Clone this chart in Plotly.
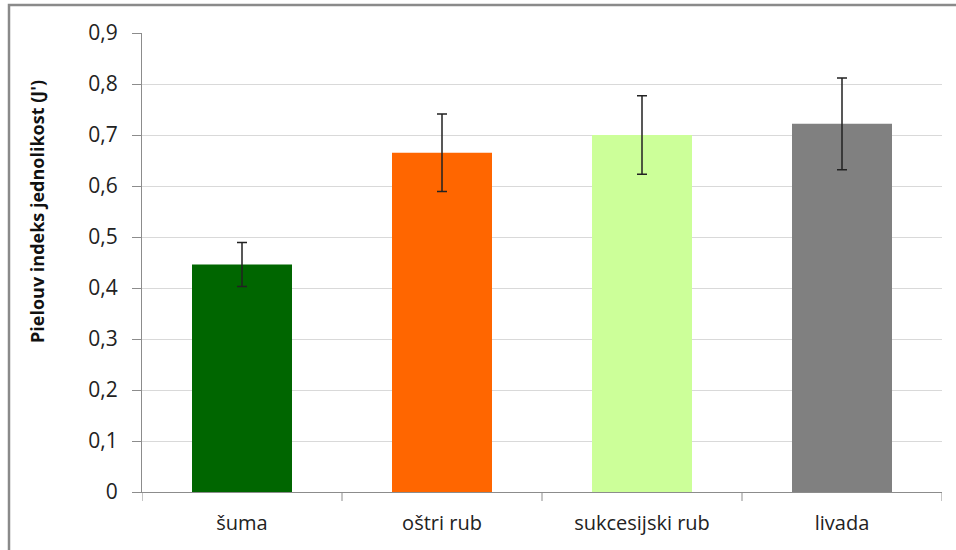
import plotly.graph_objects as go

categories = ["šuma", "oštri rub", "sukcesijski rub", "livada"]
values = [0.446, 0.665, 0.700, 0.722]
errors = [0.043, 0.076, 0.077, 0.090]
colors = ["#006600", "#FF6600", "#CCFF99", "#808080"]
tick_vals = [0, 0.1, 0.2, 0.3, 0.4, 0.5, 0.6, 0.7, 0.8, 0.9]
tick_text = ["0", "0,1", "0,2", "0,3", "0,4", "0,5", "0,6", "0,7", "0,8", "0,9"]
y_title = "Pielouv indeks jednolikost (J')"

W, H = 956, 550
ml, mr, mt, mb = 142, 14, 33, 58
pw, ph = W - ml - mr, H - mt - mb

fig = go.Figure()
fig.add_trace(go.Bar(
    x=categories, y=values,
    marker=dict(color=colors, line=dict(width=0)),
    error_y=dict(type="data", array=errors, visible=True,
                 color="#222222", thickness=1.5, width=5),
    width=0.5,
))

fig.update_layout(
    width=W, height=H,
    margin=dict(l=ml, r=mr, t=mt, b=mb, pad=0),
    paper_bgcolor="white", plot_bgcolor="white",
    showlegend=False,
    separators=", ",
    font=dict(family="Open Sans, Lato, sans-serif", size=20, color="#222222"),
    xaxis=dict(
        showline=True, linecolor="#8c8c8c", linewidth=1,
        ticks="", showgrid=False,
        tickfont=dict(size=20),
        ticklabelstandoff=13,
        range=[-0.5, 3.5],
    ),
    yaxis=dict(
        range=[0, 0.9],
        tickvals=tick_vals, ticktext=tick_text,
        showline=True, linecolor="#8c8c8c", linewidth=1,
        ticks="outside", ticklen=9, tickcolor="#8c8c8c",
        showgrid=True, gridcolor="#d9d9d9", gridwidth=1,
        zeroline=False,
        tickfont=dict(size=21),
        ticklabelstandoff=10,
    ),
)

# y-axis title placed as rotated annotation
fig.add_annotation(
    text="<b>" + y_title + "</b>",
    xref="paper", yref="paper",
    x=(37 - ml) / pw, y=(H - mb - 212) / ph,
    xanchor="center", yanchor="middle",
    textangle=-90, showarrow=False,
    font=dict(size=18, family="Liberation Sans Narrow, Open Sans, sans-serif", color="#111111"),
)

# x-axis category boundary ticks
for i in range(5):
    fig.add_shape(type="line", xref="x", yref="paper",
                  x0=i - 0.5, x1=i - 0.5, y0=0, y1=-9 / ph,
                  line=dict(color="#8c8c8c", width=1))

# outer chart border (left and top visible)
fig.add_shape(type="rect", xref="paper", yref="paper",
              x0=(9 - ml) / pw, x1=(W + 10 - ml) / pw,
              y0=(H - mb - (H + 10)) / ph, y1=(H - mb - 5) / ph,
              line=dict(color="#8a8a8a", width=2.5), fillcolor="rgba(0,0,0,0)",
              layer="below")

fig.write_html("out.html", config={"displayModeBar": False},
               post_script="document.body.style.margin='0';")
